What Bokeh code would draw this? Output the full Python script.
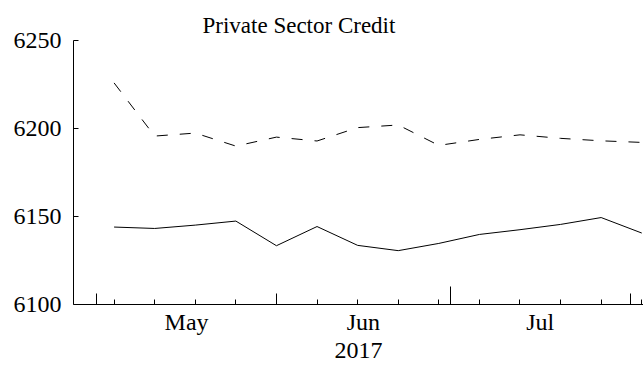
import pandas as pd
from bokeh.plotting import figure
from bokeh.models import Range1d, FixedTicker, LinearAxis, ColumnDataSource
from bokeh.embed import file_html
from bokeh.resources import INLINE

# ---- data ----
dates = ["2017-05-04", "2017-05-11", "2017-05-18", "2017-05-25", "2017-06-01",
         "2017-06-08", "2017-06-15", "2017-06-22", "2017-06-29", "2017-07-06",
         "2017-07-13", "2017-07-20", "2017-07-27", "2017-08-03"]
credit_dashed = [6225.9, 6195.7, 6197.4, 6190.0, 6195.1, 6192.9, 6200.5,
                 6202.0, 6190.4, 6193.8, 6196.4, 6194.4, 6193.0, 6192.1]
credit_solid = [6144.0, 6143.2, 6145.1, 6147.4, 6133.4, 6144.3, 6133.6,
                6130.6, 6134.7, 6139.8, 6142.5, 6145.5, 6149.4, 6140.6]
month_starts = ["2017-05-01", "2017-06-01", "2017-07-01", "2017-08-01"]
month_labels = ["May", "Jun", "Jul"]
quarter_start = "2017-07-01"
y_ticks = [6100, 6150, 6200, 6250]
year_label = "2017"
title_text = "Private Sector Credit"

DAY = 86400000


def ms(d):
    return int(pd.Timestamp(d).value // 1_000_000)


FONT = "Liberation Serif"

src = ColumnDataSource(dict(
    x=[ms(d) for d in dates],
    a=credit_dashed,
    b=credit_solid,
))

p = figure(width=643, height=365, output_backend="svg", toolbar_location=None,
           x_range=Range1d(ms("2017-04-27"), ms("2017-08-03") + int(0.3 * DAY)),
           y_range=Range1d(6100, 6250),
           min_border_left=73, min_border_right=0, min_border_top=40,
           min_border_bottom=61)
p.outline_line_color = None
p.grid.visible = False
p.background_fill_color = "white"
p.border_fill_color = "white"

p.line("x", "a", source=src, line_color="black", line_width=1, line_dash="11 12")
p.line("x", "b", source=src, line_color="black", line_width=1)

# title
p.title.text = title_text
p.title.text_font = FONT
p.title.text_font_size = "23px"
p.title.text_font_style = "normal"
p.title.text_color = "black"
p.title.align = "left"
p.title.offset = 129
p.title.standoff = 6

# y axis
ya = p.yaxis[0]
ya.ticker = FixedTicker(ticks=y_ticks, minor_ticks=[])
ya.major_tick_in = 5
ya.major_tick_out = 0
ya.minor_tick_in = 0
ya.minor_tick_out = 0
ya.major_label_standoff = 12
ya.major_label_text_font = FONT
ya.major_label_text_font_size = "24px"
ya.major_label_text_color = "black"
ya.axis_line_color = "black"
ya.major_tick_line_color = "black"

mstarts = [ms(m) for m in month_starts]
q = ms(quarter_start)


def tick_only_axis(axis, minor, length, line):
    axis.ticker = FixedTicker(ticks=[], minor_ticks=minor)
    axis.major_tick_in = 0
    axis.major_tick_out = 0
    axis.minor_tick_in = length
    axis.minor_tick_out = 0
    axis.minor_tick_line_color = "black"
    axis.major_label_standoff = 0
    axis.axis_label_standoff = 0
    axis.axis_line_color = "black" if line else None


# x axis A1: quarter-start tick (tallest)
tick_only_axis(p.xaxis[0], [q], 18, True)
# x axis A2: other month-start ticks
xa2 = LinearAxis()
tick_only_axis(xa2, [m for m in mstarts if m != q], 11, False)
p.add_layout(xa2, "below")

# x axis B: month names at mid-month, weekly minor ticks
mids = []
for i in range(len(month_labels)):
    s = pd.Timestamp(month_starts[i])
    e = pd.Timestamp(month_starts[i + 1])
    mids.append(ms(s + (e - s) / 2))
xb = LinearAxis(ticker=FixedTicker(ticks=mids, minor_ticks=[ms(d) for d in dates]))
xb.major_label_overrides = {m: lab for m, lab in zip(mids, month_labels)}
xb.major_tick_in = 0
xb.major_tick_out = 0
xb.minor_tick_in = 5
xb.minor_tick_out = 0
xb.minor_tick_line_color = "black"
xb.axis_line_color = None
xb.major_label_standoff = 4
xb.major_label_text_font = FONT
xb.major_label_text_font_size = "24px"
xb.major_label_text_color = "black"
xb.axis_label = year_label
xb.axis_label_text_font = FONT
xb.axis_label_text_font_size = "24px"
xb.axis_label_text_font_style = "normal"
xb.axis_label_text_color = "black"
xb.axis_label_standoff = 5
p.add_layout(xb, "below")

open("out.html", "w").write(file_html(p, INLINE))
